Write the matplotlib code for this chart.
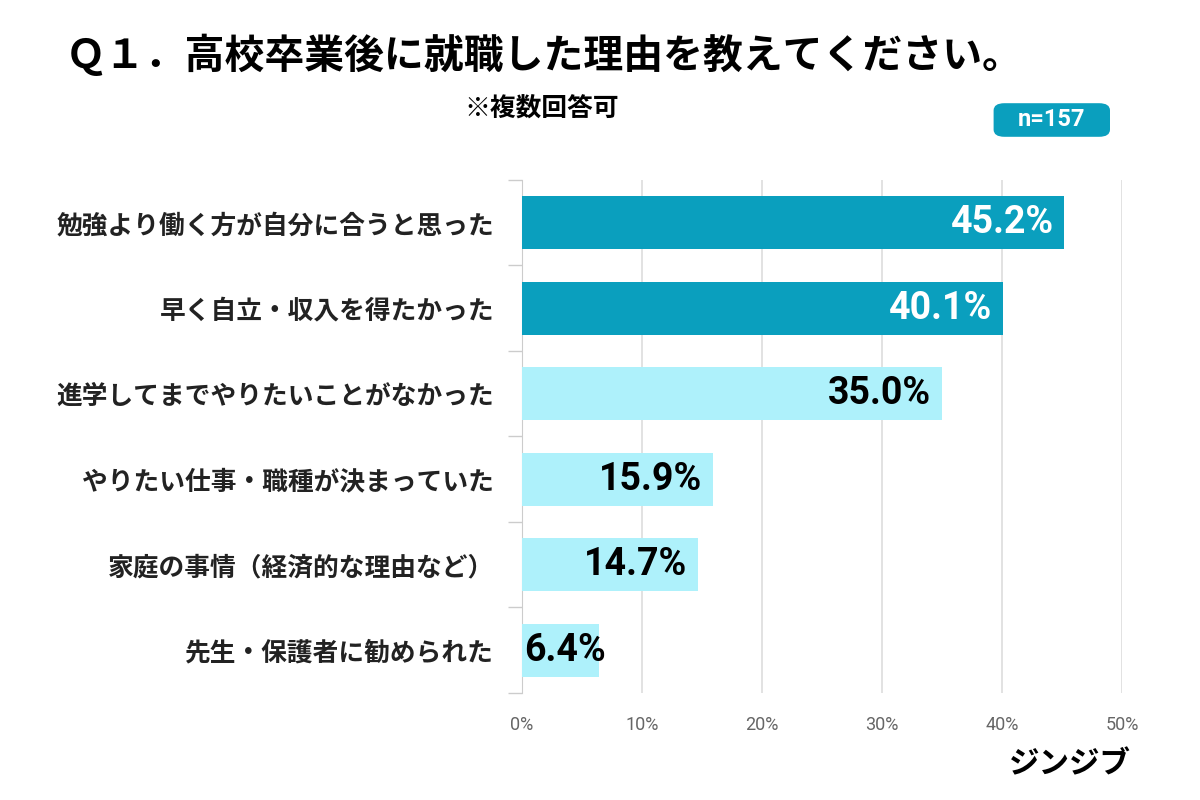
import matplotlib.pyplot as plt
from matplotlib.patches import FancyBboxPatch
from matplotlib.ticker import FixedLocator

plt.rcParams['font.family'] = ['Noto Sans CJK JP', 'DejaVu Sans']

# data
reasons = [
    "勉強より働く方が自分に合うと思った",
    "早く自立・収入を得たかった",
    "進学してまでやりたいことがなかった",
    "やりたい仕事・職種が決まっていた",
    "家庭の事情（経済的な理由など）",
    "先生・保護者に勧められた",
]
percent = [45.2, 40.1, 35.0, 15.9, 14.7, 6.4]
highlight = [True, True, False, False, False, False]
x_ticks = [0, 10, 20, 30, 40, 50]

dark = "#0a9fbe"
light = "#aef1fb"

fig = plt.figure(figsize=(12, 8), dpi=100)
ax = fig.add_axes([0.435, 0.134, 0.5, 0.641])

y = list(range(len(reasons)))
colors = [dark if h else light for h in highlight]
ax.barh(y, percent, height=0.62, color=colors, zorder=3)

for yi, v, h in zip(y, percent, highlight):
    ax.text(max(v - 0.9, 7.0), yi, f"{v:.1f}%", ha="right", va="center",
            fontsize=27, fontweight="bold", family=["Roboto", "DejaVu Sans"],
            color="white" if h else "black", zorder=4)

ax.set_xlim(0, 50)
ax.set_ylim(len(reasons) - 0.5, -0.5)
ax.set_xticks(x_ticks)
ax.set_xticklabels([f"{t}%" for t in x_ticks], color="#666666", fontsize=13,
                   family=["Roboto", "DejaVu Sans"])
ax.tick_params(axis="x", length=0, pad=17)
ax.grid(axis="x", color="#dddddd", linewidth=1.2, zorder=0)

ax.set_yticks(y)
ax.set_yticklabels(reasons, fontsize=18.5, fontweight="bold", color="#222222")
ax.tick_params(axis="y", which="major", length=0, pad=20)
ax.yaxis.set_minor_locator(FixedLocator([i - 0.5 for i in range(len(reasons) + 1)]))
ax.tick_params(axis="y", which="minor", length=10, color="#cccccc", width=1)

for s in ["top", "right", "bottom"]:
    ax.spines[s].set_visible(False)
ax.spines["left"].set_color("#cccccc")

# titles and badges
fig.text(0.055, 0.93, "Ｑ１．高校卒業後に就職した理由を教えてください。",
         fontsize=28.7, fontweight="bold", va="center", ha="left")
fig.text(0.451, 0.863, "※複数回答可", fontsize=18.5, fontweight="bold",
         va="center", ha="center")

badge = FancyBboxPatch((0.828, 0.829), 0.097, 0.042, transform=fig.transFigure,
                       boxstyle="round,pad=0,rounding_size=0.009",
                       facecolor=dark, edgecolor="none")
fig.patches.append(badge)
fig.text(0.8765, 0.850, "n=157", fontsize=17, fontweight="bold", color="white",
         va="center", ha="center", family=["Roboto", "DejaVu Sans"])

fig.text(0.942, 0.045, "ジンジブ", fontsize=22, fontweight="bold",
         va="center", ha="right")

fig.savefig("out.png", dpi=100, facecolor="white")
